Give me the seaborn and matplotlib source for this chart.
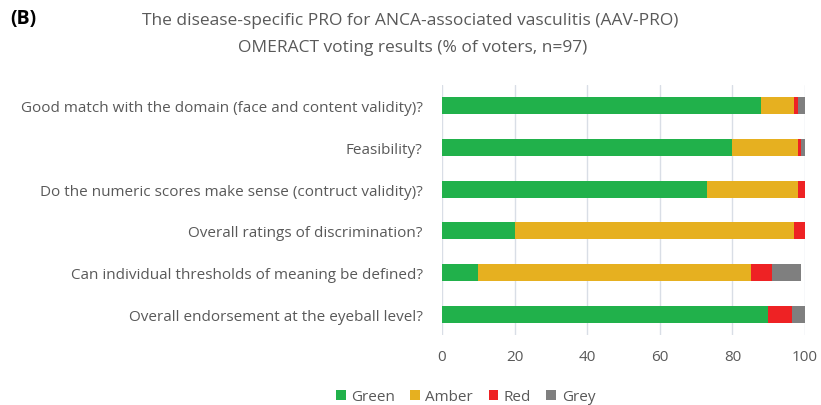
import numpy as np
import pandas as pd
import matplotlib
matplotlib.use("Agg")
import matplotlib.pyplot as plt
import seaborn as sns
from matplotlib.patches import Patch

questions = [
    "Good match with the domain (face and content validity)?",
    "Feasibility?",
    "Do the numeric scores make sense (contruct validity)?",
    "Overall ratings of discrimination?",
    "Can individual thresholds of meaning be defined?",
    "Overall endorsement at the eyeball level?",
]
green = [88, 80, 73, 20, 10, 89.7]
amber = [9, 18, 25, 77, 75, 0]
red = [1, 1, 2, 3, 6, 6.6]
grey = [2, 1, 0, 0, 8, 3.7]

series = ["Green", "Amber", "Red", "Grey"]
colors = {"Green": "#21B14B", "Amber": "#E6B020", "Red": "#EE2224", "Grey": "#7F7F7F"}

sns.set_theme(style="white")
plt.rcParams["font.family"] = ["Open Sans", "DejaVu Sans"]
txt = "#595959"

df = pd.DataFrame({"Question": questions, "Green": green, "Amber": amber,
                   "Red": red, "Grey": grey})
cum = df[series].cumsum(axis=1)

fig = plt.figure(figsize=(8.21, 4.06), dpi=100)
ax = fig.add_axes([0.5384, 0.1724, 0.9805 - 0.5384, 0.7882 - 0.1724])

for s in reversed(series):
    sns.barplot(x=cum[s], y=df["Question"], color=colors[s], orient="h",
                width=0.41, ax=ax, saturation=1, edgecolor="none")

ax.set_xlim(0, 100)
ax.set_ylim(5.5, -0.5)
ax.set_xticks(range(0, 101, 20))
ax.xaxis.grid(True, color="#D9DEE6", linewidth=1)
ax.set_axisbelow(True)
for sp in ax.spines.values():
    sp.set_visible(False)
ax.set_xlabel("")
ax.set_ylabel("")
ax.tick_params(axis="both", length=0, colors=txt, labelsize=11)
ax.tick_params(axis="y", pad=14)
ax.tick_params(axis="x", pad=10)

fig.text(0.012, 0.952, "(B)", fontsize=14, fontweight="bold", color="black",
         ha="left", va="center")
fig.text(0.5, 0.948, "The disease-specific PRO for ANCA-associated vasculitis (AAV-PRO)",
         fontsize=12.5, color=txt, ha="center", va="center")
fig.text(0.503, 0.882, "OMERACT voting results (% of voters, n=97)",
         fontsize=12.5, color=txt, ha="center", va="center")

handles = [Patch(facecolor=colors[s], edgecolor="none", label=s) for s in series]
leg = fig.legend(handles=handles, loc="center", bbox_to_anchor=(0.567, 0.02),
                 ncol=4, frameon=False, fontsize=11, handlelength=0.65,
                 handleheight=0.65, handletextpad=0.35, columnspacing=1.0)
for t in leg.get_texts():
    t.set_color(txt)

fig.savefig("out.png", dpi=100)
